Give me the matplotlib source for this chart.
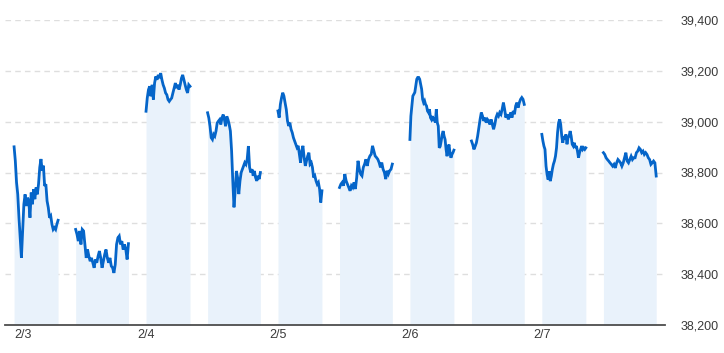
import numpy as np
import matplotlib
matplotlib.use("Agg")
import matplotlib.pyplot as plt

# etiquetas de dias
dias = ["2/3", "2/4", "2/5", "2/6", "2/7"]

# valores (sesion manana / sesion tarde por dia)
manana_0203 = [38901, 38846, 38761, 38714, 38622, 38543, 38464, 38570, 38675, 38714, 38668, 38701,
               38688, 38622, 38721, 38675, 38734, 38695, 38741, 38714, 38754, 38820, 38853, 38807,
               38827, 38747, 38754, 38688, 38662, 38622, 38629, 38596, 38576, 38583, 38576, 38596, 38612]
tarde_0203 = [38576, 38557, 38530, 38570, 38517, 38576, 38570, 38517, 38464, 38497, 38471, 38451,
              38464, 38445, 38425, 38458, 38445, 38471, 38491, 38464, 38425, 38451, 38478, 38497,
              38464, 38445, 38464, 38432, 38425, 38405, 38438, 38517, 38543, 38550, 38517, 38530,
              38497, 38517, 38497, 38458, 38520]

manana_0204 = [39041, 39093, 39126, 39139, 39100, 39145, 39087, 39152, 39178, 39165, 39184, 39171,
               39191, 39165, 39145, 39132, 39113, 39106, 39087, 39080, 39087, 39093, 39113, 39132,
               39152, 39132, 39145, 39126, 39145, 39171, 39184, 39165, 39145, 39126, 39113, 39145, 39139]
tarde_0204 = [39035, 39015, 38982, 38937, 38930, 38950, 38943, 38963, 38995, 39002, 39008, 38989,
              39015, 39028, 39008, 38982, 39021, 39008, 38989, 38963, 38885, 38767, 38663, 38728,
              38806, 38780, 38715, 38767, 38800, 38813, 38826, 38839, 38832, 38852, 38904, 38820,
              38800, 38813, 38787, 38806, 38780, 38767, 38787, 38774, 38800]

manana_0205 = [39042, 39016, 39068, 39094, 39114, 39101, 39074, 39048, 39003, 38983, 38996, 38970,
               38957, 38937, 38924, 38911, 38898, 38905, 38872, 38839, 38885, 38905, 38859, 38826,
               38846, 38865, 38878, 38833, 38839, 38820, 38780, 38787, 38767, 38754, 38761, 38735,
               38682, 38728]
tarde_0205 = [38741, 38754, 38761, 38748, 38794, 38767, 38754, 38741, 38728, 38748, 38741, 38761,
              38735, 38780, 38846, 38813, 38794, 38787, 38820, 38833, 38852, 38826, 38852, 38865,
              38872, 38905, 38885, 38865, 38859, 38852, 38839, 38820, 38839, 38813, 38800, 38774,
              38807, 38794, 38807, 38813, 38833]

manana_0206 = [38930, 39022, 39062, 39101, 39108, 39115, 39141, 39167, 39174, 39174, 39167, 39147,
               39128, 39088, 39075, 39082, 39068, 39062, 39042, 39036, 39049, 39016, 39009, 39022,
               39003, 39016, 38996, 39049, 38996, 38983, 38897, 38903, 38924, 38950, 38963, 38943,
               38930, 38891, 38864, 38897, 38910, 38878, 38858, 38871, 38878, 38888]
tarde_0206 = [38924, 38910, 38891, 38903, 38917, 38943, 38976, 39009, 39036, 39022, 39003, 39016,
              38996, 39009, 39003, 38989, 39009, 38989, 38970, 38989, 39016, 39029, 39022, 39036,
              39029, 39049, 39075, 39049, 39016, 39029, 39009, 39022, 39036, 39016, 39042, 39029,
              39062, 39075, 39055, 39075, 39088, 39095, 39088, 39068]

manana_0207 = [38950, 38924, 38904, 38891, 38825, 38792, 38772, 38805, 38766, 38785, 38812, 38832,
               38845, 38864, 38897, 38957, 38996, 39009, 38989, 38943, 38917, 38943, 38930, 38950,
               38911, 38937, 38943, 38963, 38943, 38911, 38904, 38917, 38897, 38904, 38884, 38858,
               38878, 38891, 38904, 38891, 38897, 38891, 38897]
tarde_0207 = [38878, 38871, 38858, 38851, 38845, 38838, 38832, 38825, 38832, 38818, 38838, 38851,
              38845, 38838, 38825, 38838, 38858, 38878, 38845, 38838, 38851, 38864, 38851, 38858,
              38858, 38878, 38884, 38897, 38891, 38878, 38884, 38871, 38878, 38871, 38858, 38851,
              38832, 38838, 38845, 38838, 38786]

sesiones = [(manana_0203, tarde_0203), (manana_0204, tarde_0204), (manana_0205, tarde_0205),
            (manana_0206, tarde_0206), (manana_0207, tarde_0207)]

# eje y
y_ticks = [38200, 38400, 38600, 38800, 39000, 39200, 39400]

color_linea = "#0565c9"
color_area = "#e9f2fb"

fig = plt.figure(figsize=(7.24, 3.53), dpi=100)
ax = fig.add_axes([5 / 724, 28 / 353, 660 / 724, 305 / 353])

# minutos: manana 9:00-11:30, tarde 12:30-15:30, un dia ocupa 450
for d, (manana, tarde) in enumerate(sesiones):
    base = d * 450
    for inicio, fin, vals in [(base, base + 150, manana), (base + 210, base + 390, tarde)]:
        t = np.linspace(inicio, fin, len(vals))
        ax.fill_between(t, vals, 38200, color=color_area, lw=0, zorder=1)
        ax.plot(t, vals, color=color_linea, lw=2.0, zorder=3, solid_joinstyle="miter")

ax.set_xlim(-31, 2220)
ax.set_ylim(38200, 39400)

# grilla punteada
for y in y_ticks[1:]:
    ax.axhline(y, color="#dedede", lw=1, ls=(0, (4, 3)), zorder=0)
ax.axhline(38200, color="#4d4d4d", lw=1.3, zorder=4, clip_on=False)

for s in ax.spines.values():
    s.set_visible(False)

ax.yaxis.tick_right()
ax.set_yticks(y_ticks)
ax.set_yticklabels([f"{v:,}" for v in y_ticks])
ax.tick_params(axis="y", length=0, pad=11, labelsize=9, labelcolor="#3a3a3a")

ax.set_xticks([d * 450 for d in range(len(dias))])
ax.set_xticklabels(dias)
ax.tick_params(axis="x", length=0, pad=3, labelsize=9, labelcolor="#3a3a3a")
ax.get_xticklabels()[0].set_horizontalalignment("left")

for lbl in ax.get_xticklabels() + ax.get_yticklabels():
    lbl.set_fontfamily("Liberation Sans")

fig.savefig("out.png", dpi=100)
